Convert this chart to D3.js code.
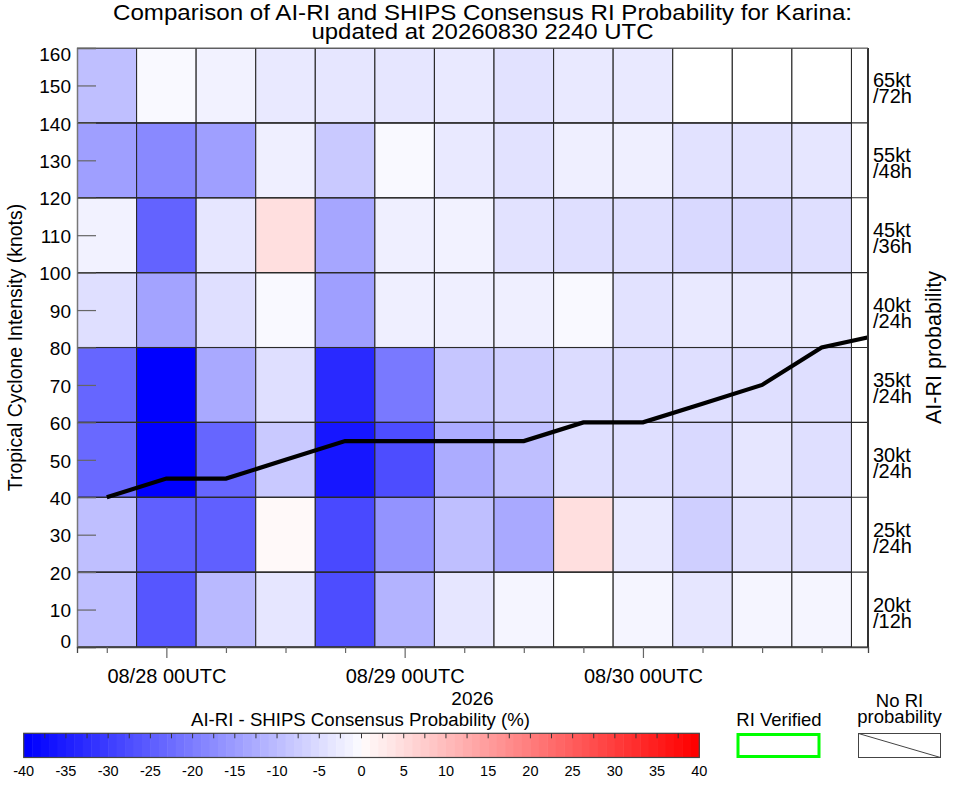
<!DOCTYPE html>
<html>
<head>
<meta charset="utf-8">
<script src="https://cdn.jsdelivr.net/npm/d3@7"></script>
<style>
  html, body { margin: 0; padding: 0; background: #fff; }
  svg { display: block; font-family: "Liberation Sans", Arial, Helvetica, sans-serif; }
</style>
</head>
<body>
<svg id="chart" width="963" height="785"></svg>
<script>
// ---------------- DATA ----------------
const cellTimes = [
  "2026-08-27T18:00:00Z", "2026-08-28T00:00:00Z", "2026-08-28T06:00:00Z", "2026-08-28T12:00:00Z",
  "2026-08-28T18:00:00Z", "2026-08-29T00:00:00Z", "2026-08-29T06:00:00Z", "2026-08-29T12:00:00Z",
  "2026-08-29T18:00:00Z", "2026-08-30T00:00:00Z", "2026-08-30T06:00:00Z", "2026-08-30T12:00:00Z",
  "2026-08-30T18:00:00Z"
];
const rowLower = [0, 20, 40, 60, 80, 100, 120, 140];
const rowLabelTop = ["20kt", "25kt", "30kt", "35kt", "40kt", "45kt", "55kt", "65kt"];
const rowLabelBottom = ["/12h", "/24h", "/24h", "/24h", "/24h", "/36h", "/48h", "/72h"];

// AI-RI minus SHIPS consensus probability (%), one array per intensity row
const diff0to20    = [-10, -26.5, -11, -4, -28, -12, -4, -1.5, 0, -1.5, -4, -1.5, -1.5];
const diff20to40   = [-10, -25, -25, 1, -28.5, -17, -10, -13.5, 5, -3.5, -7.5, -4.5, -4.5];
const diff40to60   = [-23.5, -40, -24, -8.5, -36.5, -28, -13, -10, -5, -5, -6, -4, -5];
const diff60to80   = [-24, -40, -13.5, -5, -33.5, -21, -9, -7.5, -5.5, -5.5, -5, -5, -5];
const diff80to100  = [-5, -14.5, -5, -1, -15, -2.5, -2.5, -2.5, -1, -4.5, -3.5, -3.5, -3.5];
const diff100to120 = [-2, -24.5, -4, 5, -14, -2.5, -2, -4.5, -5, -5, -6, -6, -5];
const diff120to140 = [-15, -18.5, -15, -2.5, -8.5, -1, -3.5, -4.5, -2.5, -2.5, -4.5, -4.5, -4];
const diff140to160 = [-10, -1, -2, -3.5, -4, -4, -3.5, -4.5, -3.5, -3.5, 0, 0, 0];

const trackTimes = [
  "2026-08-27T18:00:00Z", "2026-08-28T00:00:00Z", "2026-08-28T06:00:00Z", "2026-08-28T12:00:00Z",
  "2026-08-28T18:00:00Z", "2026-08-29T00:00:00Z", "2026-08-29T06:00:00Z", "2026-08-29T12:00:00Z",
  "2026-08-29T18:00:00Z", "2026-08-30T00:00:00Z", "2026-08-30T06:00:00Z", "2026-08-30T12:00:00Z",
  "2026-08-30T18:00:00Z", "2026-08-31T00:00:00Z"
];
const trackIntensity = [40, 45, 45, 50, 55, 55, 55, 55, 60, 60, 65, 70, 80, 83.5];

const yTicks = [0, 10, 20, 30, 40, 50, 60, 70, 80, 90, 100, 110, 120, 130, 140, 150, 160];
const colorbarTicks = [-40, -35, -30, -25, -20, -15, -10, -5, 0, 5, 10, 15, 20, 25, 30, 35, 40];

const titleLine1 = "Comparison of AI-RI and SHIPS Consensus RI Probability for Karina:";
const titleLine2 = "updated at 20260830 2240 UTC";

// ---------------- SETUP ----------------
const diffRows = [diff0to20, diff20to40, diff40to60, diff60to80, diff80to100, diff100to120, diff120to140, diff140to160];
const parse = d3.isoParse;
const HOUR = 3600 * 1000;

const L = 77, R = 868, T = 48, B = 647;
const svg = d3.select("#chart");

const x = d3.scaleUtc()
  .domain([parse("2026-08-27T15:00:00Z"), parse("2026-08-30T22:40:00Z")])
  .range([L, R]);
const y = d3.scaleLinear().domain([0, 160]).range([B, T]);
const color = d3.scaleLinear().domain([-40, 0, 40]).range(["#0000ff", "#ffffff", "#ff0000"]);

svg.append("defs").append("clipPath").attr("id", "plotclip")
  .append("rect").attr("x", L).attr("y", T).attr("width", R - L).attr("height", B - T);

// ---------------- CELLS ----------------
const cells = [];
diffRows.forEach((row, ri) => {
  row.forEach((v, ci) => {
    const t = parse(cellTimes[ci]);
    cells.push({ t0: new Date(+t - 3 * HOUR), t1: new Date(+t + 3 * HOUR), lo: rowLower[ri], hi: rowLower[ri] + 20, v });
  });
});
const gCells = svg.append("g").attr("clip-path", "url(#plotclip)");
gCells.selectAll("rect.cell").data(cells).join("rect")
  .attr("class", "cell")
  .attr("x", d => x(d.t0))
  .attr("y", d => y(d.hi))
  .attr("width", d => x(d.t1) - x(d.t0))
  .attr("height", d => y(d.lo) - y(d.hi))
  .attr("fill", d => color(d.v))
  .attr("stroke", "#2a2a2a")
  .attr("stroke-width", 1.1);

gCells.selectAll("line.hgrid").data(rowLower.concat([160])).join("line")
  .attr("x1", L).attr("x2", R)
  .attr("y1", d => y(d)).attr("y2", d => y(d))
  .attr("stroke", "#2a2a2a").attr("stroke-width", 1.1);

// ---------------- TRACK LINE ----------------
const track = trackTimes.map((t, i) => ({ t: parse(t), v: trackIntensity[i] }));
svg.append("path")
  .datum(track)
  .attr("clip-path", "url(#plotclip)")
  .attr("fill", "none")
  .attr("stroke", "#000")
  .attr("stroke-width", 4.2)
  .attr("stroke-linejoin", "miter")
  .attr("d", d3.line().x(d => x(d.t)).y(d => y(d.v)));

// ---------------- AXES ----------------
const yAxis = d3.axisLeft(y).tickValues(yTicks).tickSize(-19).tickPadding(25).tickFormat(d3.format("d"));
const gy = svg.append("g").attr("transform", `translate(${L},0)`).call(yAxis);
gy.select(".domain").attr("stroke", "#777").attr("stroke-width", 1.5);
gy.selectAll(".tick line").attr("stroke", "#666").attr("stroke-width", 1.2);
gy.selectAll(".tick text")
  .attr("x", -6)
  .attr("font-size", 19)
  .attr("fill", "#000")
  .attr("font-family", "Liberation Sans, Arial, sans-serif")
  .attr("dy", d => d === 160 ? "0.65em" : (d === 0 ? "0em" : "0.38em"));

const xAxis = d3.axisBottom(x)
  .tickValues(cellTimes.map(parse))
  .tickSize(6)
  .tickFormat(d => d.getUTCHours() === 0 ? d3.utcFormat("%m/%d %HUTC")(d) : "");
const gx = svg.append("g").attr("transform", `translate(0,${B})`).call(xAxis);
gx.select(".domain").attr("stroke", "#444").attr("stroke-width", 1.3);
gx.selectAll(".tick line")
  .attr("stroke", "#666").attr("stroke-width", 1.2)
  .attr("y2", d => d.getUTCHours() === 0 ? 11 : 6);
gx.selectAll(".tick text")
  .attr("y", 36).attr("dy", 0)
  .attr("font-size", 20)
  .attr("fill", "#000")
  .attr("font-family", "Liberation Sans, Arial, sans-serif");

svg.append("line").attr("x1", R).attr("x2", R).attr("y1", T).attr("y2", B)
  .attr("stroke", "#333").attr("stroke-width", 2);
svg.append("line").attr("x1", L).attr("x2", R).attr("y1", T).attr("y2", T)
  .attr("stroke", "#666").attr("stroke-width", 1.2);

// right row labels (two lines in one text element)
const gRow = svg.append("g").attr("font-size", 20).attr("fill", "#000");
rowLower.forEach((lo, i) => {
  const cy = (y(lo) + y(lo + 20)) / 2;
  const t = gRow.append("text").attr("x", 873).attr("y", cy + 2);
  t.append("tspan").attr("x", 873).text(rowLabelTop[i]);
  t.append("tspan").attr("x", 873).attr("dy", 16).text(rowLabelBottom[i]);
});

// axis titles
svg.append("text")
  .attr("transform", `translate(22,${(T + B) / 2}) rotate(-90)`)
  .attr("text-anchor", "middle").attr("font-size", 19.5)
  .text("Tropical Cyclone Intensity (knots)");
svg.append("text")
  .attr("transform", `translate(941,${(T + B) / 2}) rotate(-90)`)
  .attr("text-anchor", "middle").attr("font-size", 21.5)
  .text("AI-RI probability");
svg.append("text")
  .attr("x", (L + R) / 2).attr("y", 705)
  .attr("text-anchor", "middle").attr("font-size", 19)
  .text("2026");

// title
svg.append("text").attr("x", 482.5).attr("y", 19.6)
  .attr("text-anchor", "middle").attr("font-size", 21.5)
  .attr("textLength", 739).attr("lengthAdjust", "spacingAndGlyphs").text(titleLine1);
svg.append("text").attr("x", 482.5).attr("y", 39)
  .attr("text-anchor", "middle").attr("font-size", 21.5)
  .attr("textLength", 342).attr("lengthAdjust", "spacingAndGlyphs").text(titleLine2);

// ---------------- COLORBAR ----------------
const cbX = d3.scaleLinear().domain([-40, 40]).range([23.7, 699.3]);
const cbTop = 733.3, cbBot = 757.5;
const bands = d3.range(-40, 40, 1);
svg.append("g").selectAll("rect").data(bands).join("rect")
  .attr("x", d => cbX(d))
  .attr("y", cbTop)
  .attr("width", cbX(1) - cbX(0) + 0.5)
  .attr("height", cbBot - cbTop)
  .attr("fill", d => color(d < 0 ? d : d + 1));
svg.append("rect")
  .attr("x", cbX(-40)).attr("y", cbTop)
  .attr("width", cbX(40) - cbX(-40)).attr("height", cbBot - cbTop)
  .attr("fill", "none").attr("stroke", "#444").attr("stroke-width", 1.2);
svg.append("g").selectAll("line").data(d3.range(-37.5, 40, 2.5)).join("line")
  .attr("x1", d => cbX(d)).attr("x2", d => cbX(d))
  .attr("y1", cbTop).attr("y2", cbTop + 5)
  .attr("stroke", "#333").attr("stroke-width", 1);
svg.append("g").attr("font-size", 14.5).attr("text-anchor", "middle")
  .selectAll("text").data(colorbarTicks).join("text")
  .attr("x", d => cbX(d)).attr("y", 776)
  .text(d => d);
svg.append("text")
  .attr("x", 360.5).attr("y", 726)
  .attr("text-anchor", "middle").attr("font-size", 18)
  .attr("textLength", 339).attr("lengthAdjust", "spacingAndGlyphs")
  .text("AI-RI - SHIPS Consensus Probability (%)");

// ---------------- LEGEND BOXES ----------------
svg.append("text").attr("x", 779).attr("y", 726)
  .attr("text-anchor", "middle").attr("font-size", 18.5).text("RI Verified");
svg.append("rect").attr("x", 738).attr("y", 734.5).attr("width", 81).attr("height", 22)
  .attr("fill", "none").attr("stroke", "#00ff00").attr("stroke-width", 3);

const noRi = svg.append("text").attr("x", 899.5).attr("y", 707.3)
  .attr("text-anchor", "middle").attr("font-size", 18.5);
noRi.append("tspan").attr("x", 899.5).text("No RI");
noRi.append("tspan").attr("x", 899.5).attr("dy", 16).text("probability");
svg.append("rect").attr("x", 858.5).attr("y", 733.5).attr("width", 82).attr("height", 24)
  .attr("fill", "none").attr("stroke", "#444").attr("stroke-width", 1);
svg.append("line").attr("x1", 858.5).attr("y1", 733.5).attr("x2", 940.5).attr("y2", 757.5)
  .attr("stroke", "#444").attr("stroke-width", 1);
</script>
</body>
</html>
